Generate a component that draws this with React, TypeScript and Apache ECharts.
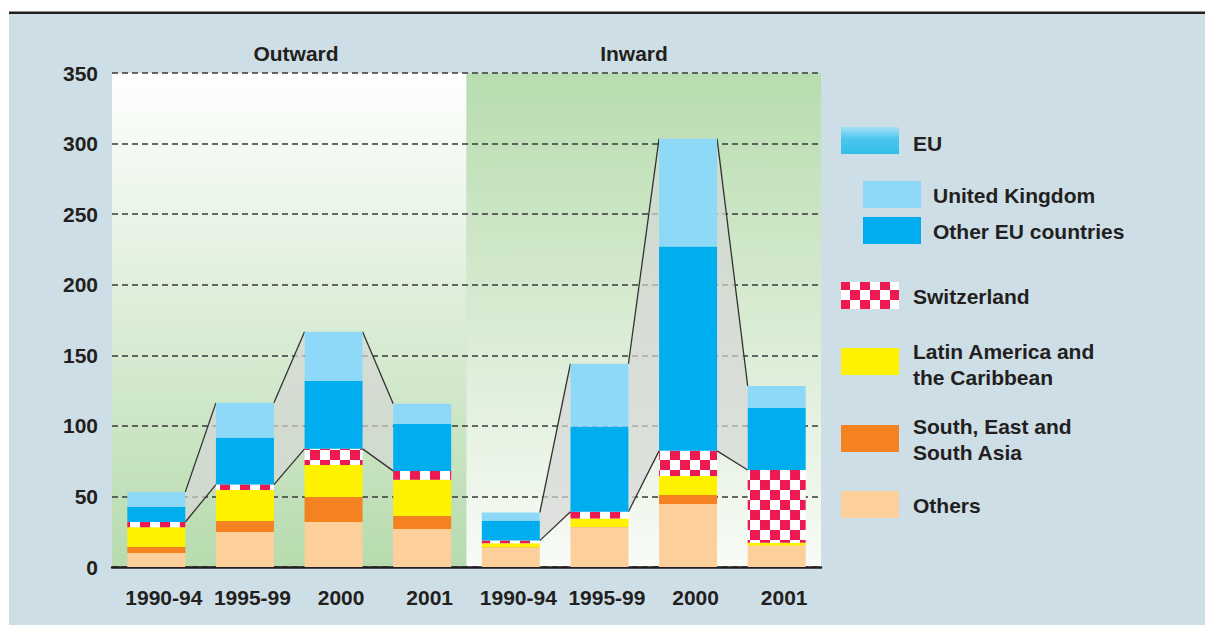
import React, { useEffect, useRef } from 'react';
import * as echarts from 'echarts';

// ---------- data ----------
const categories = ['1990-94', '1995-99', '2000', '2001', '1990-94', '1995-99', '2000', '2001'];
const groupTitles = ['Outward', 'Inward'];
const yTicks = { min: 0, max: 350, interval: 50 };

const others = [9.9, 24.8, 31.9, 27.0, 13.7, 28.1, 44.7, 15.0];
const asia = [4.3, 7.8, 17.7, 9.2, 0.3, 0.3, 6.3, 0.3];
const latin = [14.0, 22.0, 22.7, 25.7, 2.8, 5.9, 13.5, 1.9];
const swiss = [3.7, 3.8, 11.4, 6.2, 1.9, 4.9, 17.8, 51.5];
const otherEU = [10.6, 33.1, 48.2, 33.3, 14.2, 60.1, 144.7, 44.0];
const uk = [10.7, 24.8, 34.8, 14.2, 5.7, 44.7, 76.5, 15.6];

// panels: [first category index, last category index]
const panels = [
  [0, 3],
  [4, 7],
];
// connector gaps: bar index pairs within each panel
const gaps = [
  [0, 1],
  [1, 2],
  [2, 3],
  [4, 5],
  [5, 6],
  [6, 7],
];

// ---------- styles ----------
const C_UK = '#8ed8f8';
const C_OEU = '#00aeef';
const C_SWISS = '#ed1a52';
const C_LATIN = '#fff200';
const C_ASIA = '#f58220';
const C_OTHERS = '#fdcf9b';
const TXT = '#231f20';
const FONT = '"Liberation Sans", Arial, Helvetica, sans-serif';
const BAR_W = 58;

function makeChecker(): HTMLCanvasElement {
  const c = document.createElement('canvas');
  c.width = 20;
  c.height = 20;
  const ctx = c.getContext('2d')!;
  ctx.fillStyle = '#ffffff';
  ctx.fillRect(0, 0, 20, 20);
  ctx.fillStyle = C_SWISS;
  ctx.fillRect(0, 0, 10, 10);
  ctx.fillRect(10, 10, 10, 10);
  return c;
}

export default function App() {
  const ref = useRef<HTMLDivElement>(null);

  useEffect(() => {
    if (!ref.current) return;
    const chart = echarts.init(ref.current, undefined, { renderer: 'svg' });
    const checker = makeChecker();
    const swissFill: any = { image: checker, repeat: 'repeat' };

    const totals = categories.map((_, i) => others[i] + asia[i] + latin[i] + swiss[i] + otherEU[i] + uk[i]);
    const euBase = categories.map((_, i) => others[i] + asia[i] + latin[i] + swiss[i]);
    const gapData = gaps.map(([a, b]) => [a, totals[a], euBase[a], totals[b], euBase[b]]);
    const panelData = panels.map(([s, e]) => [s, e, 0]);

    const barSeries = (name: string, data: number[], color: any) => ({
      name,
      type: 'bar',
      stack: 'total',
      barWidth: BAR_W,
      data,
      itemStyle: { color },
      z: 3,
    });

    const legendItems: any[] = [];
    const swatch = (x: number, y: number, fill: any) => ({
      type: 'rect',
      shape: { x, y, width: 58, height: 27 },
      style: { fill },
    });
    const label = (x: number, y: number, text: string) => ({
      type: 'text',
      x,
      y,
      style: {
        text,
        fill: TXT,
        font: `bold 21px ${FONT}`,
        lineHeight: 26,
        textVerticalAlign: 'middle',
        verticalAlign: 'middle',
        textAlign: 'left',
        align: 'left',
      },
    });
    legendItems.push(
      swatch(841, 127, new echarts.graphic.LinearGradient(0, 0, 0, 1, [
        { offset: 0, color: '#a6e0f6' },
        { offset: 0.45, color: '#4cc6ee' },
        { offset: 1, color: '#33bde9' },
      ])),
      label(913, 143, 'EU'),
      swatch(863, 181, C_UK),
      label(933, 195, 'United Kingdom'),
      swatch(863, 217, C_OEU),
      label(933, 231, 'Other EU countries'),
      swatch(841, 282, swissFill),
      label(913, 296, 'Switzerland'),
      swatch(841, 348, C_LATIN),
      label(913, 364, 'Latin America and\nthe Caribbean'),
      swatch(841, 425, C_ASIA),
      label(913, 439, 'South, East and\nSouth Asia'),
      swatch(841, 491, C_OTHERS),
      label(913, 505, 'Others'),
    );

    const option: any = {
      animation: false,
      backgroundColor: '#cedee6',
      grid: { left: 112, right: 384, top: 73, bottom: 58, containLabel: false },
      xAxis: {
        type: 'category',
        data: categories,
        axisLine: { show: true, lineStyle: { color: TXT, width: 2.5 } },
        axisTick: { show: false },
        axisLabel: {
          color: TXT,
          fontFamily: FONT,
          fontWeight: 'bold',
          fontSize: 21,
          margin: 20,
          padding: [0, 0, 0, 15],
          interval: 0,
        },
        splitLine: { show: false },
      },
      yAxis: {
        type: 'value',
        min: yTicks.min,
        max: yTicks.max,
        interval: yTicks.interval,
        axisLine: { show: false },
        axisTick: { show: false },
        axisLabel: {
          color: TXT,
          fontFamily: FONT,
          fontWeight: 'bold',
          fontSize: 21,
          margin: 14,
          formatter: (v: number) => (v === 0 ? '0' : String(v)),
        },
        splitLine: {
          show: true,
          lineStyle: { color: '#3a3a3a', width: 1.6, type: [6, 4] },
        },
      },
      series: [
        {
          type: 'custom',
          name: 'panels',
          z: -1,
          silent: true,
          data: panelData,
          encode: { x: [0, 1], y: 2 },
          renderItem: (params: any, api: any) => {
            const s = api.value(0);
            const e = api.value(1);
            const bw = api.size([1, 0])[0];
            const x0 = api.coord([s, 0])[0] - bw / 2;
            const x1 = api.coord([e, 0])[0] + bw / 2;
            const yTop = api.coord([s, yTicks.max])[1];
            const yBot = api.coord([s, 0])[1];
            const stops =
              params.dataIndex === 0
                ? [
                    { offset: 0, color: '#ffffff' },
                    { offset: 1, color: '#b7dbae' },
                  ]
                : [
                    { offset: 0, color: '#b8dcaf' },
                    { offset: 1, color: '#f8fbf6' },
                  ];
            return {
              type: 'rect',
              shape: { x: x0, y: yTop, width: x1 - x0, height: yBot - yTop },
              style: { fill: new echarts.graphic.LinearGradient(0, 0, 0, 1, stops) },
            };
          },
        },
        {
          type: 'custom',
          name: 'connectors',
          z: 2,
          silent: true,
          data: gapData,
          encode: { x: 0, y: [1, 2, 3, 4] },
          renderItem: (params: any, api: any) => {
            const i = api.value(0);
            const xa = api.coord([i, 0])[0] + BAR_W / 2;
            const xb = api.coord([i + 1, 0])[0] - BAR_W / 2;
            const ya1 = api.coord([i, api.value(1)])[1];
            const ya2 = api.coord([i, api.value(2)])[1];
            const yb1 = api.coord([i, api.value(3)])[1];
            const yb2 = api.coord([i, api.value(4)])[1];
            return {
              type: 'group',
              children: [
                {
                  type: 'polygon',
                  shape: { points: [[xa, ya1], [xb, yb1], [xb, yb2], [xa, ya2]] },
                  style: { fill: 'rgba(214,215,214,0.7)' },
                },
                {
                  type: 'line',
                  shape: { x1: xa, y1: ya1, x2: xb, y2: yb1 },
                  style: { stroke: '#333333', lineWidth: 1.3 },
                },
                {
                  type: 'line',
                  shape: { x1: xa, y1: ya2, x2: xb, y2: yb2 },
                  style: { stroke: '#333333', lineWidth: 1.3 },
                },
              ],
            };
          },
        },
        barSeries('Others', others, C_OTHERS),
        barSeries('South, East and South Asia', asia, C_ASIA),
        barSeries('Latin America and the Caribbean', latin, C_LATIN),
        barSeries('Switzerland', swiss, swissFill),
        barSeries('Other EU countries', otherEU, C_OEU),
        barSeries('United Kingdom', uk, C_UK),
      ],
      graphic: [
        { type: 'rect', shape: { x: 0, y: 0, width: 1205, height: 12 }, style: { fill: '#ffffff' } },
        { type: 'rect', shape: { x: 0, y: 0, width: 9, height: 625 }, style: { fill: '#ffffff' } },
        {
          type: 'line',
          shape: { x1: 9, y1: 12.8, x2: 1205, y2: 12.8 },
          style: { stroke: TXT, lineWidth: 2.6 },
        },
        {
          type: 'text',
          x: 296,
          y: 53,
          style: {
            text: groupTitles[0],
            fill: TXT,
            font: `bold 21px ${FONT}`,
            textAlign: 'center',
            align: 'center',
            textVerticalAlign: 'middle',
            verticalAlign: 'middle',
          },
        },
        {
          type: 'text',
          x: 634,
          y: 53,
          style: {
            text: groupTitles[1],
            fill: TXT,
            font: `bold 21px ${FONT}`,
            textAlign: 'center',
            align: 'center',
            textVerticalAlign: 'middle',
            verticalAlign: 'middle',
          },
        },
        ...legendItems,
      ],
    };

    chart.setOption(option);
    return () => chart.dispose();
  }, []);

  return (
    <div
      ref={ref}
      style={{ position: 'fixed', left: 0, top: 0, width: 1205, height: 625 }}
    />
  );
}
